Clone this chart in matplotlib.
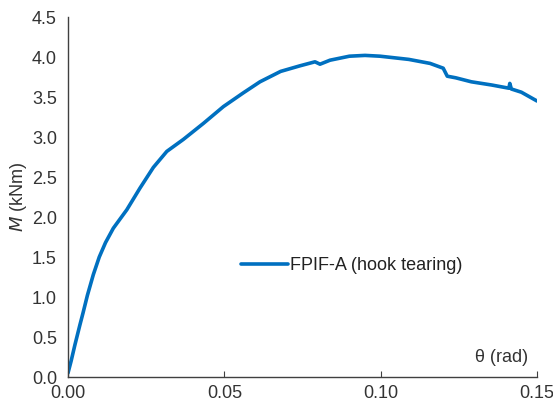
import matplotlib
matplotlib.use("Agg")
import matplotlib.pyplot as plt

plt.rcParams['font.family'] = ['Liberation Sans', 'DejaVu Sans']

theta = [0, 0.0010, 0.0022, 0.0038, 0.0048, 0.0062, 0.0081, 0.0100, 0.0120, 0.0145,
         0.0188, 0.0230, 0.0273, 0.0316, 0.0369, 0.0433, 0.0497, 0.0560, 0.0614,
         0.0680, 0.0742, 0.0790, 0.0806, 0.0838, 0.0900, 0.0950, 0.0998, 0.1090,
         0.1158, 0.1200, 0.1213, 0.1240, 0.1290, 0.1355, 0.1410, 0.1413, 0.1418,
         0.1450, 0.1500]
moment = [0.05, 0.2, 0.4, 0.65, 0.80, 1.02, 1.28, 1.50, 1.68, 1.86,
          2.09, 2.36, 2.62, 2.82, 2.97, 3.17, 3.38, 3.55, 3.69,
          3.82, 3.89, 3.94, 3.91, 3.96, 4.01, 4.02, 4.01, 3.97,
          3.92, 3.86, 3.76, 3.74, 3.69, 3.65, 3.61, 3.67, 3.60,
          3.56, 3.45]
xticks = [0.00, 0.05, 0.10, 0.15]
yticks = [0.0, 0.5, 1.0, 1.5, 2.0, 2.5, 3.0, 3.5, 4.0, 4.5]

fig = plt.figure(figsize=(5.53, 4.12), dpi=100)
ax = fig.add_axes([68/553, 1 - 377/412, 469/553, 360/412])
ax.plot(theta, moment, color='#0070C0', lw=2.6, label='FPIF-A (hook tearing)',
        solid_capstyle='round', solid_joinstyle='round')
ax.set_xlim(0, 0.15)
ax.set_ylim(0, 4.5)
ax.set_xticks(xticks)
ax.set_xticklabels([f"{v:.2f}" for v in xticks])
ax.set_yticks(yticks)
ax.set_yticklabels([f"{v:.1f}" for v in yticks])
for s in ['top', 'right']:
    ax.spines[s].set_visible(False)
for s in ['left', 'bottom']:
    ax.spines[s].set_color('#404040')
    ax.spines[s].set_linewidth(1.0)
ax.tick_params(axis='x', direction='in', length=4, color='#404040', labelsize=13, pad=6, labelcolor='#333333')
ax.tick_params(axis='y', length=0, labelsize=13, pad=8, labelcolor='#333333')
ax.set_ylabel(r'$M$ (kNm)', fontsize=13, color='#333333', labelpad=2)
ax.text(0.925, 0.055, 'θ (rad)', transform=ax.transAxes, ha='center', va='center',
        fontsize=13, color='#333333')
leg = ax.legend(loc='center left', bbox_to_anchor=(0.335, 0.31), frameon=False,
                fontsize=13, handlelength=2.6, handletextpad=0.1)
for t in leg.get_texts():
    t.set_color('#222222')
fig.savefig('out.png', dpi=100)
